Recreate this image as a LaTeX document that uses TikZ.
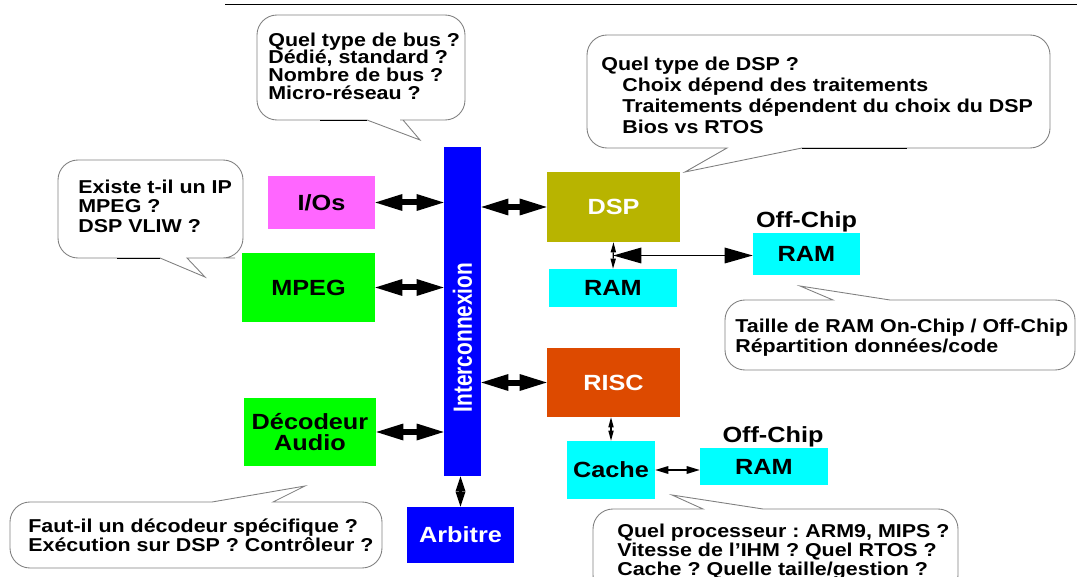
\documentclass[tikz,border=0pt]{standalone}
\usepackage{fontspec}
\newfontfamily\wide{Liberation Sans Bold}[FakeStretch=1.15]
\newfontfamily\narrow{Liberation Sans Bold}[FakeStretch=0.79]
\usetikzlibrary{positioning,arrows.meta}
\frenchspacing

\definecolor{io pink}{HTML}{FF66FF}
\definecolor{hw green}{HTML}{00FF00}
\definecolor{bus blue}{HTML}{0000FF}
\definecolor{dsp olive}{HTML}{B8B400}
\definecolor{risc orange}{HTML}{DD4A00}
\definecolor{mem cyan}{HTML}{00FFFF}

\begin{document}
\begin{tikzpicture}[x=0.2mm, y=-0.2mm,
    block/.style={fill=#1, inner sep=0pt, align=center,
        font=\wide\fontsize{12.5}{12}\selectfont},
    bubble/.style={draw=gray, line width=0.5pt, rounded corners=4mm},
    bubble text/.style={anchor=north west, inner sep=0pt, align=left,
        font=\wide\fontsize{10.6}{#1}\selectfont},
    fat link/.style={line width=1.2mm,
        {Triangle[length=5.4mm,width=3.4mm,line width=0pt]}-{Triangle[length=5.4mm,width=3.4mm,line width=0pt]}},
    long link/.style={line width=0.35mm,
        {Triangle[length=5.6mm,width=3.2mm,line width=0pt]}-{Triangle[length=5.6mm,width=3.2mm,line width=0pt]}},
    mid link/.style={line width=0.6mm,
        {Triangle[length=3mm,width=2mm,line width=0pt]}-{Triangle[length=3mm,width=2mm,line width=0pt]}},
    short link/.style={line width=0.4mm,
        {Triangle[length=2.6mm,width=1.6mm,line width=0pt]}-{Triangle[length=2.6mm,width=1.6mm,line width=0pt]}},
    thin link/.style={line width=0.25mm,
        {Triangle[length=2mm,width=1.1mm,line width=0pt]}-{Triangle[length=2mm,width=1.1mm,line width=0pt]}}
]
    \useasboundingbox (0,0) rectangle (1077,577);
    \draw[line width=0.2mm] (225,5) -- (1077,5);

    % blocks
    \node[block=io pink, minimum width=21.4mm, minimum height=10.6mm] (io) at (321.5,202.5) {I/Os};
    \node[block=hw green, minimum width=26.6mm, minimum height=13.8mm] (mpeg) at (308.5,287.5) {MPEG};
    \node[block=hw green, minimum width=26.4mm, minimum height=13.6mm] (audio) at (310,432) {Décodeur\\Audio};
    \node[block=bus blue, text=white, minimum width=7.4mm, minimum height=65.8mm,
        font=\narrow\fontsize{15}{15}\selectfont] (bus) at (462.5,311.5) {\rotatebox{90}{Interconnexion\hspace*{10.4mm}}};
    \node[block=bus blue, text=white, minimum width=21.4mm, minimum height=11.2mm] (arbiter) at (460.5,535) {Arbitre};
    \node[block=dsp olive, text=white, minimum width=26.6mm, minimum height=14mm] (dsp) at (613.5,207) {DSP};
    \node[block=mem cyan, minimum width=25.6mm, minimum height=7.6mm] (onchip ram) at (613,288) {RAM};
    \node[block=mem cyan, minimum width=21.4mm, minimum height=8.4mm] (offchip ram) at (806.5,254) {RAM};
    \node[block=risc orange, text=white, minimum width=26.6mm, minimum height=13.8mm] (risc) at (613.5,382.5) {RISC};
    \node[block=mem cyan, minimum width=17.6mm, minimum height=11.6mm] (cache) at (611,470) {Cache};
    \node[block=mem cyan, minimum width=25.6mm, minimum height=7.4mm] (cache ram) at (764,466.5) {RAM};

    \node[block=none, above=0pt of offchip ram] (offchip label) {Off-Chip};
    \node[block=none, above=0pt of cache ram, xshift=1.8mm] (cache label) {Off-Chip};

    % links to the bus
    \draw[fat link] (io.east) -- (io.east -| bus.west);
    \draw[fat link] (mpeg.east) -- (mpeg.east -| bus.west);
    \draw[fat link] (audio.east) -- (audio.east -| bus.west);
    \draw[fat link] (dsp.west -| bus.east) -- (dsp.west);
    \draw[fat link] (risc.west -| bus.east) -- (risc.west);
    \draw[mid link] (bus.south -| arbiter.north) -- (arbiter.north);

    % memories
    \draw[thin link] (dsp.south) -- (onchip ram.north);
    \path (dsp.south) -- (onchip ram.north) coordinate[pos=0.5] (tap);
    \draw[long link] (tap) -- (tap -| offchip ram.west);
    \draw[thin link] (risc.south -| cache.north) -- (cache.north);
    \draw[short link] (cache.east) -- (cache.east -| cache ram.west);

    % questions
    \draw[bubble] (310,120) -- (257,120) -- (257,15) -- (465,15) -- (465,120) -- (420,120)
        [sharp corners] -- (403,120) -- (420,140) -- (367,120) -- cycle;
    \draw[line width=0.4pt] (320,120) -- (367,120);
    \node[bubble text=10pt] (bus question) at (268,32.5)
        {Quel type de bus ?\\Dédié, standard ?\\Nombre de bus ?\\Micro-réseau ?};

    \draw[bubble] (650,148) -- (587,148) -- (587,35) -- (1050,35) -- (1050,148) -- (850,148)
        [sharp corners] -- (802,148) -- (685,172) -- (727,148) -- cycle;
    \draw[line width=0.4pt] (802,148) -- (907,148);
    \node[bubble text=12pt] (dsp question) at (601,56.5)
        {Quel type de DSP ?\\
         \hspace*{4.2mm}Choix dépend des traitements\\
         \hspace*{4.2mm}Traitements dépendent du choix du DSP\\
         \hspace*{4.2mm}Bios vs RTOS};

    \draw[bubble] (100,258) -- (58,258) -- (58,160) -- (243,160) -- (243,258) -- (215,258)
        [sharp corners] -- (187,258) -- (205,277) -- (160,258) -- cycle;
    \draw[line width=0.4pt] (117,258) -- (160,258);
    \node[bubble text=11pt] (ip question) at (78,179.5)
        {Existe t-il un IP\\MPEG ?\\DSP VLIW ?};

    \draw[bubble] (1000,300) -- (1075,300) -- (1075,370) -- (725,370) -- (725,300) -- (780,300)
        [sharp corners] -- (833,300) -- (800,286) -- (890,300) -- cycle;
    \node[bubble text=11.4pt] (ram question) at (735,318.5)
        {Taille de RAM On-Chip / Off-Chip\\Répartition données/code};

    \draw[bubble] (350,502) -- (382,502) -- (382,568) -- (10,568) -- (10,502) -- (150,502)
        [sharp corners] -- (212,502) -- (305,486) -- (273,502) -- cycle;
    \node[bubble text=10.8pt] (audio question) at (28,518.5)
        {Faut-il un décodeur spécifique ?\\Exécution sur DSP ? Contrôleur ?};

    \draw[bubble] (850,509) -- (958,509) -- (958,595) -- (593,595) -- (593,509) -- (660,509)
        [sharp corners] -- (703,509) -- (672,495) -- (763,509) -- cycle;
    \node[bubble text=10.8pt] (cpu question) at (617,523.5)
        {Quel processeur : ARM9, MIPS ?\\Vitesse de l’IHM ? Quel RTOS ?\\Cache ? Quelle taille/gestion ?};
\end{tikzpicture}
\end{document}
